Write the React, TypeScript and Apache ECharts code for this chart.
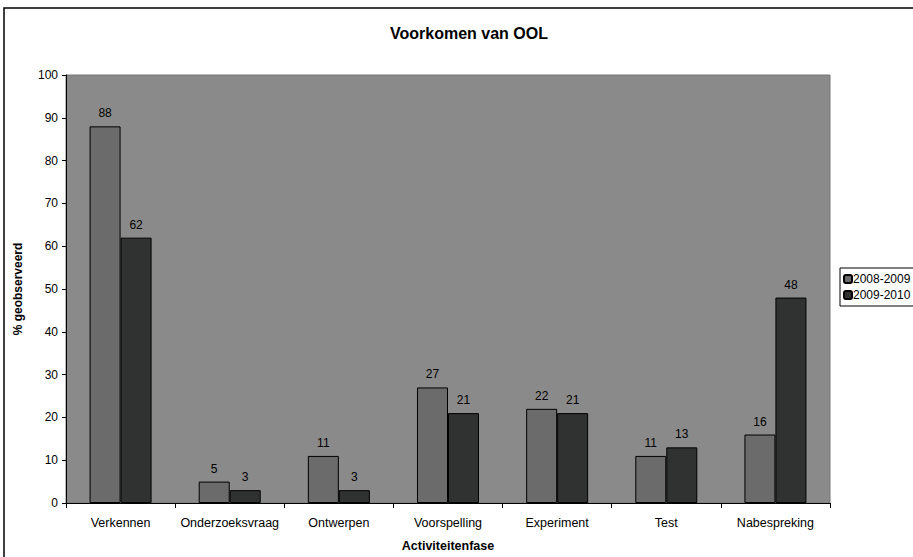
import React, { useEffect, useRef } from "react";
import * as echarts from "echarts";

const categories = ["Verkennen", "Onderzoeksvraag", "Ontwerpen", "Voorspelling", "Experiment", "Test", "Nabespreking"];
const series2008 = [88, 5, 11, 27, 22, 11, 16];
const series2009 = [62, 3, 3, 21, 21, 13, 48];
const seriesNames = ["2008-2009", "2009-2010"];

export default function App() {
  const ref = useRef<HTMLDivElement>(null);
  useEffect(() => {
    const chart = echarts.init(ref.current!, null, { renderer: "svg" });
    const font = "'Liberation Sans', Arial, sans-serif";
    chart.setOption({
      animation: false,
      backgroundColor: "#ffffff",
      textStyle: { fontFamily: font },
      title: {
        text: "Voorkomen van OOL",
        left: 464,
        top: 20,
        textAlign: "center",
        textStyle: { fontSize: 16, fontWeight: "bold", color: "#000", fontFamily: font },
      },
      graphic: [
        {
          type: "rect",
          shape: { x: 4, y: 8, width: 920, height: 560 },
          style: { fill: "none", stroke: "#000", lineWidth: 1.5 },
          silent: true,
          z: -1,
        },
      ],
      legend: {
        orient: "vertical",
        left: 840,
        top: 268,
        itemWidth: 8,
        itemHeight: 8,
        itemGap: 2,
        padding: [4, 8, 4, 3],
        backgroundColor: "#fff",
        borderColor: "#000",
        borderWidth: 1,
        textStyle: { fontSize: 12, lineHeight: 14, color: "#000", fontFamily: font, padding: [0, 0, 0, -4] },
        data: seriesNames,
      },
      grid: {
        left: 66,
        top: 75,
        right: 83,
        bottom: 54,
        show: true,
        backgroundColor: "#8a8a8a",
        borderColor: "#777",
        borderWidth: 1,
      },
      xAxis: {
        type: "category",
        data: categories,
        name: "Activiteitenfase",
        nameLocation: "middle",
        nameGap: 36,
        nameTextStyle: { fontSize: 12.5, fontWeight: "bold", color: "#000", fontFamily: font },
        axisLine: { lineStyle: { color: "#000", width: 1 } },
        axisTick: { show: true, alignWithLabel: false, length: 5, lineStyle: { color: "#000" } },
        axisLabel: { interval: 0, fontSize: 12.5, color: "#000", margin: 13, fontFamily: font },
      },
      yAxis: {
        type: "value",
        min: 0,
        max: 100,
        interval: 10,
        name: "% geobserveerd",
        nameLocation: "middle",
        nameGap: 42,
        nameTextStyle: { fontSize: 12, fontWeight: "bold", color: "#000", fontFamily: font },
        axisLine: { show: true, lineStyle: { color: "#000", width: 1 } },
        axisTick: { show: true, length: 4, lineStyle: { color: "#000" } },
        axisLabel: { fontSize: 12, color: "#000", margin: 8, fontFamily: font },
        splitLine: { show: false },
      },
      series: [
        {
          name: seriesNames[0],
          type: "bar",
          data: series2008,
          barWidth: 31,
          barGap: "0%",
          itemStyle: { color: "#6b6b6b", borderColor: "#000", borderWidth: 1 },
          label: { show: true, position: "top", fontSize: 12, color: "#000", distance: 7, fontFamily: font },
        },
        {
          name: seriesNames[1],
          type: "bar",
          data: series2009,
          barWidth: 31,
          barGap: "0%",
          itemStyle: { color: "#303231", borderColor: "#000", borderWidth: 1 },
          label: { show: true, position: "top", fontSize: 12, color: "#000", distance: 7, fontFamily: font },
        },
      ],
    });
    return () => chart.dispose();
  }, []);
  return <div ref={ref} style={{ position: "fixed", left: 0, top: 0, width: 913, height: 557 }} />;
}
